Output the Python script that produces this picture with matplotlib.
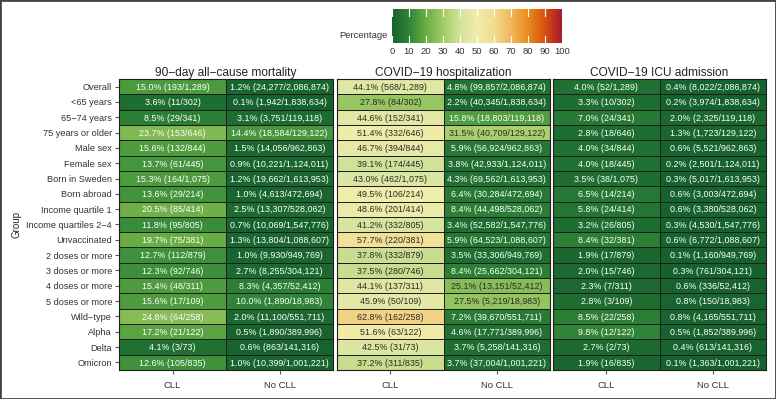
import numpy as np
import matplotlib
matplotlib.use("Agg")
import matplotlib.pyplot as plt
from matplotlib.colors import LinearSegmentedColormap
from matplotlib.patches import Rectangle

plt.rcParams['font.family'] = ['Liberation Sans', 'DejaVu Sans']

groups = ["Overall", "<65 years", "65\u221274 years", "75 years or older", "Male sex",
          "Female sex", "Born in Sweden", "Born abroad", "Income quartile 1",
          "Income quartiles 2\u22124", "Unvaccinated", "2 doses or more",
          "3 doses or more", "4 doses or more", "5 doses or more", "Wild\u2212type",
          "Alpha", "Delta", "Omicron"]
columns = ["CLL", "No CLL"]
outcomes = ["90\u2212day all\u2212cause mortality", "COVID\u221219 hospitalization",
            "COVID\u221219 ICU admission"]

cll_totals = [1289, 302, 341, 646, 844, 445, 1075, 214, 414, 805, 381, 879, 746,
              311, 109, 258, 122, 73, 835]
nocll_totals = [2086874, 1838634, 119118, 129122, 962863, 1124011, 1613953, 472694,
                528062, 1547776, 1088607, 949769, 304121, 52412, 18983, 551711,
                389996, 141316, 1001221]

# mortality
mort_cll_pct = [15.0, 3.6, 8.5, 23.7, 15.6, 13.7, 15.3, 13.6, 20.5, 11.8, 19.7, 12.7,
                12.3, 15.4, 15.6, 24.8, 17.2, 4.1, 12.6]
mort_cll_n = [193, 11, 29, 153, 132, 61, 164, 29, 85, 95, 75, 112, 92, 48, 17, 64, 21, 3, 105]
mort_nocll_pct = [1.2, 0.1, 3.1, 14.4, 1.5, 0.9, 1.2, 1.0, 2.5, 0.7, 1.3, 1.0, 2.7, 8.3,
                  10.0, 2.0, 0.5, 0.6, 1.0]
mort_nocll_n = [24277, 1942, 3751, 18584, 14056, 10221, 19662, 4613, 13307, 10069, 13804,
                9930, 8255, 4357, 1890, 11100, 1890, 863, 10399]

# hospitalization
hosp_cll_pct = [44.1, 27.8, 44.6, 51.4, 46.7, 39.1, 43.0, 49.5, 48.6, 41.2, 57.7, 37.8,
                37.5, 44.1, 45.9, 62.8, 51.6, 42.5, 37.2]
hosp_cll_n = [568, 84, 152, 332, 394, 174, 462, 106, 201, 332, 220, 332, 280, 137, 50,
              162, 63, 31, 311]
hosp_nocll_pct = [4.8, 2.2, 15.8, 31.5, 5.9, 3.8, 4.3, 6.4, 8.4, 3.4, 5.9, 3.5, 8.4, 25.1,
                  27.5, 7.2, 4.6, 3.7, 3.7]
hosp_nocll_n = [99857, 40345, 18803, 40709, 56924, 42933, 69562, 30284, 44498, 52582,
                64523, 33306, 25662, 13151, 5219, 39670, 17771, 5258, 37004]

# ICU
icu_cll_pct = [4.0, 3.3, 7.0, 2.8, 4.0, 4.0, 3.5, 6.5, 5.8, 3.2, 8.4, 1.9, 2.0, 2.3, 2.8,
               8.5, 9.8, 2.7, 1.9]
icu_cll_n = [52, 10, 24, 18, 34, 18, 38, 14, 24, 26, 32, 17, 15, 7, 3, 22, 12, 2, 16]
icu_nocll_pct = [0.4, 0.2, 2.0, 1.3, 0.6, 0.2, 0.3, 0.6, 0.6, 0.3, 0.6, 0.1, 0.3, 0.6,
                 0.8, 0.8, 0.5, 0.4, 0.1]
icu_nocll_n = [8022, 3974, 2325, 1723, 5521, 2501, 5017, 3003, 3380, 4530, 6772, 1160,
               761, 336, 150, 4165, 1852, 613, 1363]

panels = [
    (mort_cll_pct, mort_cll_n, mort_nocll_pct, mort_nocll_n),
    (hosp_cll_pct, hosp_cll_n, hosp_nocll_pct, hosp_nocll_n),
    (icu_cll_pct, icu_cll_n, icu_nocll_pct, icu_nocll_n),
]

cmap = LinearSegmentedColormap.from_list("pct", [
    (0.0, "#16622e"), (0.1, "#2f8537"), (0.2, "#6aaf45"), (0.3, "#a3cb66"),
    (0.4, "#d4e39c"), (0.5, "#f0eeab"), (0.6, "#f3dc92"), (0.7, "#f0b85c"),
    (0.8, "#e98c1e"), (0.9, "#d9520f"), (1.0, "#a8182b")])

W, H = 776, 399
fig = plt.figure(figsize=(W / 100, H / 100), dpi=100)


def rect(x0, y0, x1, y1):
    return [x0 / W, 1 - y1 / H, (x1 - x0) / W, (y1 - y0) / H]


panel_x = [(119, 333), (337, 550), (553, 766)]
top, bottom = 79, 370
txt_col = "#333333"

for k, (cp, cn, np_, nn) in enumerate(panels):
    ax = fig.add_axes(rect(panel_x[k][0], top, panel_x[k][1], bottom))
    vals = np.column_stack([cp, np_])
    ax.pcolormesh(np.arange(3), np.arange(len(groups) + 1), vals, cmap=cmap,
                  vmin=0, vmax=100, edgecolors="#1e1e1e", linewidth=0.7)
    ax.set_xlim(0, 2)
    ax.set_ylim(len(groups), 0)
    for i in range(len(groups)):
        for j, (p, n, tot) in enumerate([(cp[i], cn[i], cll_totals[i]),
                                         (np_[i], nn[i], nocll_totals[i])]):
            label = f"{p:.1f}% ({n:,}/{tot:,})"
            ax.text(j + 0.5, i + 0.55, label, ha="center", va="center",
                    fontsize=6.4, color="white" if p < 25 else "#2a2a2a")
    ax.set_xticks([0.5, 1.5])
    ax.set_xticklabels(columns, fontsize=6.8, color=txt_col)
    ax.tick_params(axis="x", length=3, color="#555555", pad=5)
    if k == 0:
        ax.set_yticks(np.arange(len(groups)) + 0.5)
        ax.set_yticklabels(groups, fontsize=6.6, color=txt_col)
        ax.tick_params(axis="y", length=3, color="#555555", pad=2)
    else:
        ax.set_yticks([])
    for s in ax.spines.values():
        s.set_linewidth(0.8)
        s.set_color("#1e1e1e")
    ax.set_title(outcomes[k], fontsize=8.6, color="#222222", pad=2.5)

fig.text(17 / W, 1 - 225 / H, "Group", rotation=90, ha="center", va="center",
         fontsize=7, color="#222222")

# colorbar
cax = fig.add_axes(rect(392, 9, 562, 43))
grad = np.linspace(0, 100, 256).reshape(1, -1)
cax.imshow(grad, cmap=cmap, vmin=0, vmax=100, extent=[0, 100, 0, 1], aspect="auto")
for t in range(0, 101, 10):
    cax.plot([t, t], [0, 0.2], color="white", lw=0.8)
    cax.plot([t, t], [0.8, 1], color="white", lw=0.8)
cax.set_xlim(0, 100)
cax.set_ylim(0, 1)
cax.set_yticks([])
cax.set_xticks(range(0, 101, 10))
cax.tick_params(axis="x", length=0, labelsize=6.8, labelcolor=txt_col, pad=3)
for s in cax.spines.values():
    s.set_visible(False)
fig.text(388 / W, 1 - 36 / H, "Percentage", ha="right", va="center",
         fontsize=6.8, color=txt_col)

fig.patches.append(Rectangle((0, 0), 1, 1, transform=fig.transFigure, fill=False,
                             edgecolor="#444444", linewidth=2))

fig.savefig("out.png", dpi=100)
